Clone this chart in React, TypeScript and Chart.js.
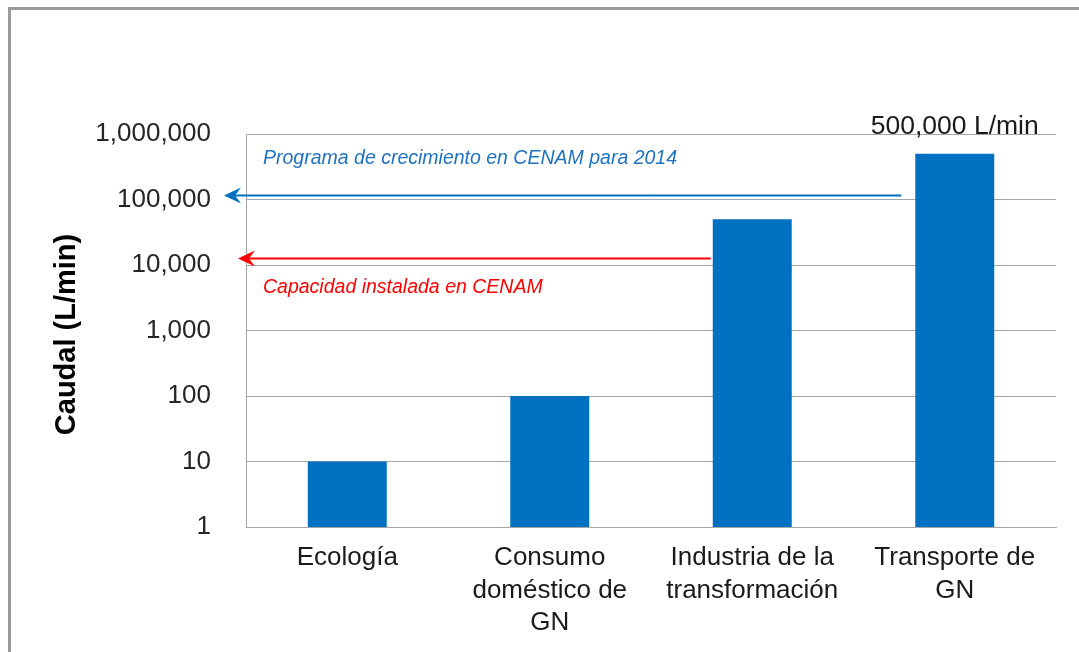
import React, { useEffect, useRef } from "react";
import { Chart, registerables } from "chart.js";

Chart.register(...registerables);

const categories: string[][] = [
  ["Ecología"],
  ["Consumo", "doméstico de", "GN"],
  ["Industria de la", "transformación"],
  ["Transporte de", "GN"],
];
const caudal: number[] = [10, 100, 50000, 500000];
const yTickValues: number[] = [1, 10, 100, 1000, 10000, 100000, 1000000];
const yTitle = "Caudal (L/min)";
const peakLabel = "500,000 L/min";
const peakIndex = 3;
const blueNote = "Programa de crecimiento en CENAM para 2014";
const blueNoteValue = 115000;
const blueNoteToIndex = 3;
const redNote = "Capacidad instalada en CENAM";
const redNoteValue = 12600;
const redNoteToIndex = 2;

const FONT = "'Liberation Sans', Arial, sans-serif";
const BAR = "#0070C0";
const GRID = "#a6a6a6";

function drawArrow(ctx: CanvasRenderingContext2D, x1: number, x2: number, y: number, color: string) {
  ctx.save();
  ctx.strokeStyle = color;
  ctx.fillStyle = color;
  ctx.lineWidth = 2;
  ctx.beginPath();
  ctx.moveTo(x1, y);
  ctx.lineTo(x2 + 10, y);
  ctx.stroke();
  ctx.beginPath();
  ctx.moveTo(x2, y);
  ctx.lineTo(x2 + 17, y - 8);
  ctx.lineTo(x2 + 11, y);
  ctx.lineTo(x2 + 17, y + 8);
  ctx.closePath();
  ctx.fill();
  ctx.restore();
}

const notesPlugin = {
  id: "notes",
  afterDatasetsDraw(chart: any) {
    const { ctx, chartArea } = chart;
    const y = chart.scales.y;
    const meta = chart.getDatasetMeta(0);
    const barLeft = (i: number) => {
      const el: any = meta.data[i];
      return el.x - el.width / 2;
    };

    // y-axis title
    ctx.save();
    ctx.translate(chartArea.left - 179, (chartArea.top + chartArea.bottom) / 2 + 4);
    ctx.rotate(-Math.PI / 2);
    ctx.font = `bold 29px ${FONT}`;
    ctx.fillStyle = "#000";
    ctx.textAlign = "center";
    ctx.textBaseline = "middle";
    ctx.fillText(yTitle, 0, 0);
    ctx.restore();

    // blue arrow + note
    const yb = y.getPixelForValue(blueNoteValue);
    drawArrow(ctx, barLeft(blueNoteToIndex) - 14, chartArea.left - 22, yb, "#0070C0");
    ctx.save();
    ctx.font = `italic 19.5px ${FONT}`;
    ctx.fillStyle = "#1f72c0";
    ctx.textBaseline = "middle";
    ctx.textAlign = "left";
    ctx.fillText(blueNote, chartArea.left + 17, yb - 37);
    ctx.restore();

    // red arrow + note
    const yr = y.getPixelForValue(redNoteValue);
    drawArrow(ctx, barLeft(redNoteToIndex) - 2, chartArea.left - 8, yr, "#ff0000");
    ctx.save();
    ctx.font = `italic 19.5px ${FONT}`;
    ctx.fillStyle = "#ff0000";
    ctx.textBaseline = "middle";
    ctx.textAlign = "left";
    ctx.fillText(redNote, chartArea.left + 17, yr + 29);
    ctx.restore();

    // peak label
    const el: any = meta.data[peakIndex];
    ctx.save();
    ctx.font = `26.5px ${FONT}`;
    ctx.fillStyle = "#1a1a1a";
    ctx.textAlign = "center";
    ctx.textBaseline = "alphabetic";
    ctx.fillText(peakLabel, el.x, el.y - 20);
    ctx.restore();
  },
};

export default function App() {
  const ref = useRef<HTMLCanvasElement | null>(null);

  useEffect(() => {
    if (!ref.current) return;
    const chart = new Chart(ref.current, {
      type: "bar",
      data: {
        labels: categories,
        datasets: [
          {
            data: caudal,
            backgroundColor: BAR,
            borderWidth: 0,
            categoryPercentage: 1,
            barPercentage: 0.39,
          },
        ],
      },
      options: {
        animation: false,
        responsive: false,
        maintainAspectRatio: false,
        layout: { padding: { top: 134, right: 23, left: 0, bottom: 0 } },
        plugins: {
          legend: { display: false },
          tooltip: { enabled: false },
        },
        scales: {
          x: {
            grid: { display: false },
            border: { display: true, color: GRID, width: 1 },
            ticks: {
              autoSkip: false,
              maxRotation: 0,
              minRotation: 0,
              padding: 7,
              color: "#1a1a1a",
              font: { family: FONT, size: 26, lineHeight: 1.25 },
            },
            afterFit: (s: any) => {
              s.height = 125;
            },
          },
          y: {
            type: "logarithmic",
            min: 1,
            max: 1000000,
            grid: { color: GRID, lineWidth: 1, drawTicks: false },
            border: { display: true, color: GRID, width: 1 },
            ticks: {
              padding: 35,
              color: "#262626",
              font: { family: FONT, size: 26 },
              callback: (v: any) => Number(v).toLocaleString("en-US"),
            },
            afterBuildTicks: (s: any) => {
              s.ticks = yTickValues.map((v) => ({ value: v }));
            },
            afterFit: (s: any) => {
              s.width = 246;
            },
          },
        },
      },
      plugins: [notesPlugin],
    });
    return () => chart.destroy();
  }, []);

  return (
    <div style={{ position: "fixed", left: 0, top: 0, width: 1079, height: 652, background: "#fff", overflow: "hidden" }}>
      <div
        style={{
          position: "absolute",
          left: 8,
          top: 7,
          width: 1200,
          height: 800,
          borderTop: "3px solid #9a9a9a",
          borderLeft: "3px solid #9a9a9a",
        }}
      />
      <canvas ref={ref} width={1079} height={652} style={{ position: "absolute", left: 0, top: 0, display: "block" }} />
    </div>
  );
}
